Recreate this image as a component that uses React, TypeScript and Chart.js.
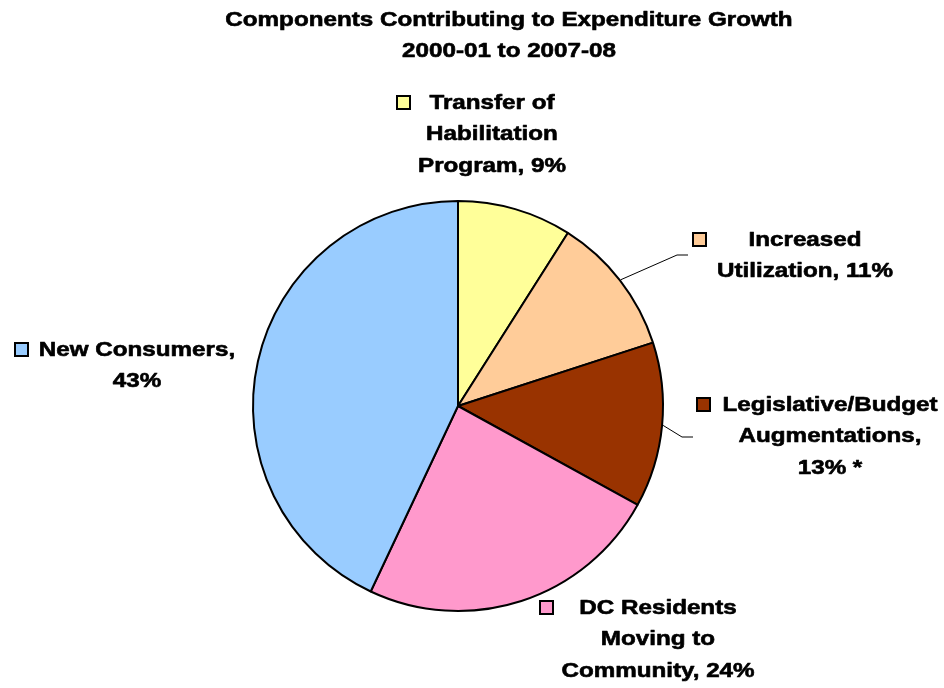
import React, { useEffect, useRef } from "react";
import { Chart, registerables } from "chart.js";

Chart.register(...registerables);

const TITLE_LINES = ["Components Contributing to Expenditure Growth", "2000-01 to 2007-08"];
const CATEGORIES = [
  "Transfer of Habilitation Program",
  "Increased Utilization",
  "Legislative/Budget Augmentations",
  "DC Residents Moving to Community",
  "New Consumers",
];
const VALUES = [9, 11, 13, 24, 43];
const COLORS = ["#FFFF99", "#FFCC99", "#993300", "#FF99CC", "#99CCFF"];
const LABEL_LINES = [
  ["Transfer of", "Habilitation", "Program, 9%"],
  ["Increased", "Utilization, 11%"],
  ["Legislative/Budget", "Augmentations,", "13% *"],
  ["DC Residents", "Moving to", "Community, 24%"],
  ["New Consumers,", "43%"],
];

// label layout: text centre x, first line centre y, marker box left/top, optional leader elbow
const LABEL_LAYOUT = [
  { cx: 492, y: 103, mx: 397, my: 96, leader: null },
  { cx: 805, y: 240, mx: 693, my: 233, leader: { ex: 677, ey: 255, tx: 688 } },
  { cx: 830, y: 405, mx: 697, my: 398, leader: { ex: 682, ey: 437, tx: 693 } },
  { cx: 658, y: 608, mx: 540, my: 601, leader: null },
  { cx: 137, y: 350, mx: 15, my: 343, leader: null },
];

const FONT = "bold 20px 'Liberation Sans', Arial, sans-serif";
const STRETCH = 1.21;
const LINE_H = 31.5;

function drawStretched(ctx: CanvasRenderingContext2D, text: string, x: number, y: number) {
  ctx.save();
  ctx.translate(x, y);
  ctx.scale(STRETCH, 1);
  ctx.lineWidth = 0.6;
  ctx.strokeStyle = "#000";
  ctx.lineJoin = "round";
  ctx.strokeText(text, 0, 0);
  ctx.fillText(text, 0, 0);
  ctx.restore();
}

const labelsPlugin = {
  id: "customLabels",
  afterDraw(chart: any) {
    const ctx: CanvasRenderingContext2D = chart.ctx;
    ctx.save();
    ctx.font = FONT;
    ctx.fillStyle = "#000";
    ctx.textAlign = "center";
    ctx.textBaseline = "middle";
    // title
    drawStretched(ctx, TITLE_LINES[0], 509, 20);
    drawStretched(ctx, TITLE_LINES[1], 509, 51);

    const meta = chart.getDatasetMeta(0);
    meta.data.forEach((arc: any, i: number) => {
      const lay = LABEL_LAYOUT[i];
      // leader line
      if (lay.leader) {
        const mid = (arc.startAngle + arc.endAngle) / 2;
        const r = arc.outerRadius + 1;
        const sx = arc.x + Math.cos(mid) * r;
        const sy = arc.y + Math.sin(mid) * r;
        ctx.beginPath();
        ctx.strokeStyle = "#000";
        ctx.lineWidth = 1;
        ctx.moveTo(sx, sy);
        ctx.lineTo(lay.leader.ex, lay.leader.ey);
        ctx.lineTo(lay.leader.tx, lay.leader.ey);
        ctx.stroke();
      }
      // marker
      ctx.fillStyle = COLORS[i];
      ctx.fillRect(lay.mx, lay.my, 13, 13);
      ctx.strokeStyle = "#000";
      ctx.lineWidth = 2;
      ctx.strokeRect(lay.mx, lay.my, 13, 13);
      // text
      ctx.fillStyle = "#000";
      LABEL_LINES[i].forEach((line, j) => {
        drawStretched(ctx, line, lay.cx, lay.y + j * LINE_H);
      });
    });
    ctx.restore();
  },
};

export default function App() {
  const ref = useRef<HTMLCanvasElement>(null);
  useEffect(() => {
    if (!ref.current) return;
    const chart = new Chart(ref.current, {
      type: "pie",
      data: {
        labels: CATEGORIES,
        datasets: [
          {
            data: VALUES,
            backgroundColor: COLORS,
            borderColor: "#000",
            borderWidth: 2,
          },
        ],
      },
      options: {
        responsive: false,
        animation: false,
        layout: { padding: { left: 252, top: 200, right: 280, bottom: 76 } },
        plugins: {
          legend: { display: false },
          title: { display: false },
          tooltip: { enabled: false },
        },
        events: [],
      },
      plugins: [labelsPlugin],
    });
    return () => chart.destroy();
  }, []);
  return (
    <div style={{ position: "absolute", left: 0, top: 0, width: 944, height: 688, background: "#fff" }}>
      <canvas ref={ref} width={944} height={688} style={{ display: "block" }} />
    </div>
  );
}
